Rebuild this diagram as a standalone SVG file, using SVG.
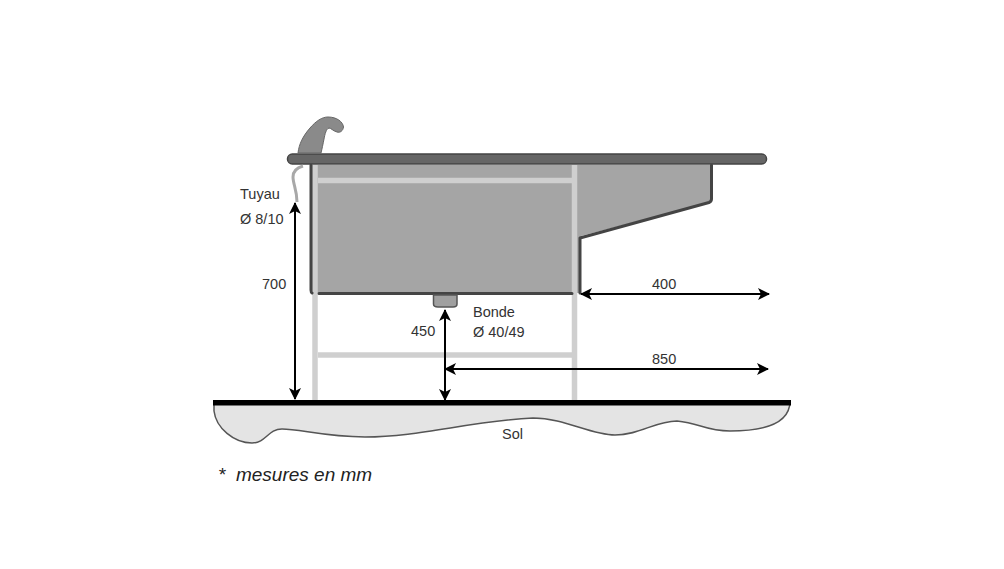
<svg xmlns="http://www.w3.org/2000/svg" width="1004" height="569" viewBox="0 0 1004 569">
<style>
text{font-family:"Liberation Sans",Arial,sans-serif;font-size:14.500px;fill:#333}
.dim{fill:none;stroke:#000;stroke-width:2}
.frame{fill:none;stroke:#cfcfcf;stroke-width:5.500}
.edge{fill:none;stroke:#444;stroke-width:3;stroke-linejoin:round;stroke-linecap:round}
</style>
<defs>
<marker id="a" markerWidth="12" markerHeight="12" viewBox="0 0 12 12" refX="11" refY="6" orient="auto-start-reverse" markerUnits="userSpaceOnUse"><path d="M0 0L12 6L0 12L3 6Z" fill="#000"/></marker>
</defs>
<rect width="1004" height="569" fill="#fff"/>
<g id="sol">
<path d="M214 404V411C216 428 234 443 252 443C266 443 268 429 282 429C300 429 325 437 365 437C420 437 470 421 533 418C565 418 590 435 615 435C640 435 655 421 677 421C700 423 705 431 730 431C765 431 790 424 790 401Z" fill="#e4e4e4" stroke="#555" stroke-width="1.500"/>
<rect x="213" y="400" width="578" height="5.500" fill="#000"/>
<text x="502" y="439">Sol</text>
</g>
<g id="evier">
<path d="M312 165H712V202L581 236V293H312Z" fill="#a5a5a5"/>
<path class="frame" d="M315 165V400M574.500 165V400M318 180.500H572M318 355H572"/>
<path class="edge" d="M311 165V290Q311 292.500 312 293M319 293.500H572M580 293V238L709 202.500Q711.500 201.500 711.500 199V165"/>
<path d="M433.500 295H457V304Q457 307 453 307H438Q433.500 307 433.500 304Z" fill="#a0a0a0" stroke="#555" stroke-width="1.500"/>
<rect x="287.500" y="154" width="479" height="10" rx="4.800" fill="#666" stroke="#444" stroke-width="1.500"/>
</g>
<g id="robinet">
<path d="M298 153C299 144 303 136 310 128C316 121 322 117 328 117C337 117 343 122 343.500 127C343 131 340 133 337 132C333 131 331 128 329 128C326 129 325 134 324 139C323 144 322 149 321 153Z" fill="#8a8a8a" stroke="#666" stroke-width="1"/>
<path d="M303 166C296 168 293 172 293 177C293 184 297 190 297 202" fill="none" stroke="#a8a8a8" stroke-width="3"/>
</g>
<g id="connectors">
<path class="dim" marker-start="url(#a)" marker-end="url(#a)" d="M295 203V399"/>
<path class="dim" marker-start="url(#a)" marker-end="url(#a)" d="M445 310V400"/>
<path class="dim" marker-start="url(#a)" marker-end="url(#a)" d="M581 294H769"/>
<path class="dim" marker-start="url(#a)" marker-end="url(#a)" d="M445 369H768"/>
</g>
<g id="labels">
<text x="240" y="199">Tuyau</text>
<text x="240" y="224">Ø 8/10</text>
<text x="262" y="289">700</text>
<text x="411" y="336">450</text>
<text x="473" y="317">Bonde</text>
<text x="473" y="337">Ø 40/49</text>
<text x="652" y="289">400</text>
<text x="652" y="364">850</text>
<text x="218" y="481" style="font-size:19px;font-style:italic;fill:#222" xml:space="preserve">*  mesures en mm</text>
</g>
</svg>
